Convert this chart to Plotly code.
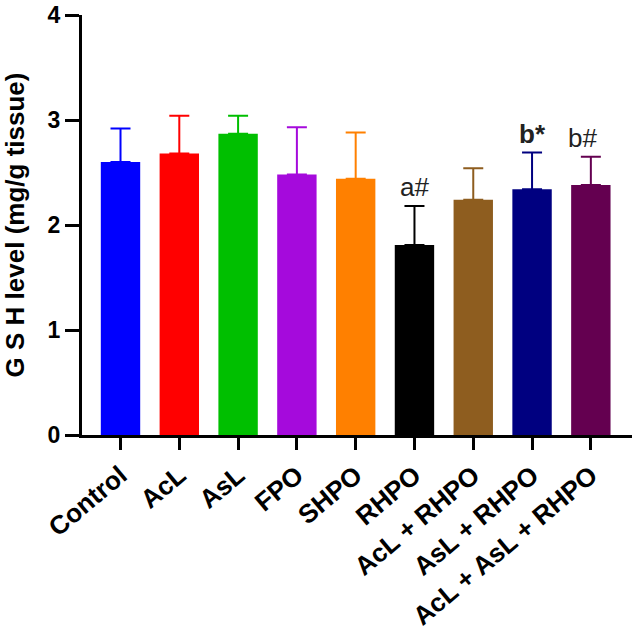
import plotly.graph_objects as go

categories = ["Control", "AcL", "AsL", "FPO", "SHPO", "RHPO",
              "AcL + RHPO", "AsL + RHPO", "AcL + AsL + RHPO"]
means = [2.60, 2.68, 2.87, 2.48, 2.44, 1.81, 2.24, 2.34, 2.38]
errors = [0.32, 0.36, 0.17, 0.45, 0.44, 0.37, 0.30, 0.35, 0.27]
colors = ["#0000FF", "#FF0000", "#00BF00", "#A50ADC", "#FF8000",
          "#000000", "#8E5D1F", "#000080", "#640050"]
sig_labels = ["", "", "", "", "", "a#", "", "<b>b*</b>", "b#"]
y_ticks = [0, 1, 2, 3, 4]

FONT = "Liberation Sans, Arial, sans-serif"

fig = go.Figure()
for i, c in enumerate(categories):
    fig.add_trace(go.Bar(
        x=[i], y=[means[i]],
        marker=dict(color=colors[i], line=dict(width=0)),
        error_y=dict(type="data", array=[errors[i]], arrayminus=[0],
                     symmetric=False, color=colors[i], thickness=2, width=10),
        width=0.67, showlegend=False,
    ))

for i, lab in enumerate(sig_labels):
    if lab:
        fig.add_annotation(x=i, y=means[i] + errors[i], text=lab, showarrow=False,
                           yanchor="bottom", yshift=2,
                           xshift=-8 if lab == "b#" else 0,
                           font=dict(family=FONT, size=26, color="#222222"))

fig.update_layout(
    width=632, height=637,
    margin=dict(l=82, r=0, t=15, b=202),
    plot_bgcolor="white", paper_bgcolor="white",
    font=dict(family=FONT, color="black"),
    xaxis=dict(
        range=[-0.655, 8.70], tickmode="array", tickvals=list(range(len(categories))),
        ticktext=[f"<b>{c}</b>" for c in categories], tickangle=-40,
        ticks="outside", ticklen=12, tickwidth=3, tickcolor="black",
        showline=True, linewidth=3, linecolor="black",
        showgrid=False, zeroline=False, automargin=False,
        tickfont=dict(family=FONT, size=26, color="black"),
    ),
    yaxis=dict(
        range=[0, 4], tickmode="array", tickvals=y_ticks,
        ticktext=[f"<b>{v}</b>" for v in y_ticks],
        ticks="outside", ticklen=14, tickwidth=3, tickcolor="black",
        showline=True, linewidth=3, linecolor="black",
        showgrid=False, zeroline=False, automargin=False,
        ticklabeloverflow="allow",
        tickfont=dict(family=FONT, size=23, color="black"),
        title=dict(text="<b>G S H level (mg/g tissue)</b>", standoff=18,
                   font=dict(family=FONT, size=26, color="black")),
    ),
)

fig.write_html("out.html")
